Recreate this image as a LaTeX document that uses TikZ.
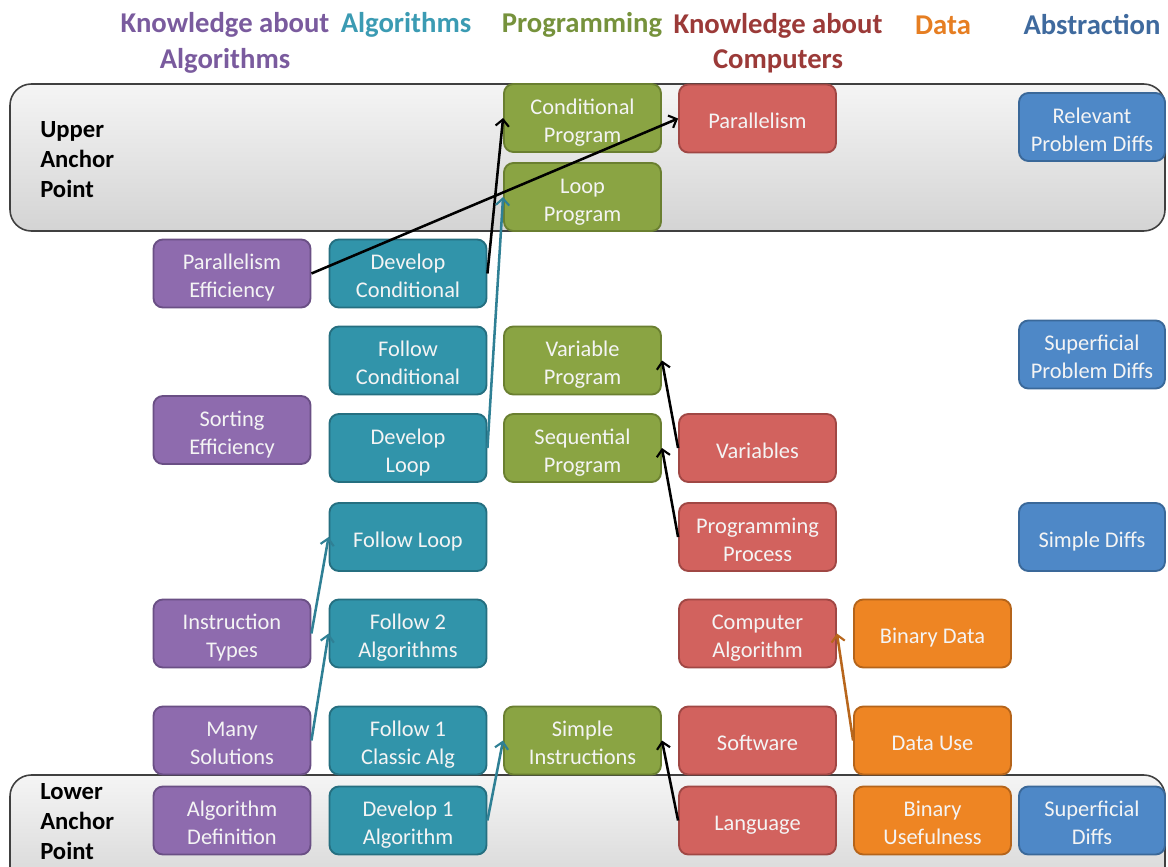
\documentclass[tikz,border=0pt]{standalone}
\usepackage{fontspec}
\setmainfont{Carlito}
\usetikzlibrary{arrows.meta}
\definecolor{pF}{HTML}{8E6BAE}\definecolor{pD}{HTML}{6A4F85}
\definecolor{tF}{HTML}{3194AA}\definecolor{tD}{HTML}{256F80}
\definecolor{gF}{HTML}{8AA443}\definecolor{gD}{HTML}{6A7F30}
\definecolor{rF}{HTML}{D2625E}\definecolor{rD}{HTML}{A04744}
\definecolor{oF}{HTML}{EE8523}\definecolor{oD}{HTML}{B5641A}
\definecolor{bF}{HTML}{4E88C7}\definecolor{bD}{HTML}{3A6899}
\definecolor{hP}{HTML}{7A5B9E}\definecolor{hT}{HTML}{3B9BB3}
\definecolor{hG}{HTML}{76923C}\definecolor{hR}{HTML}{9B3A38}
\definecolor{hO}{HTML}{E67E22}\definecolor{hB}{HTML}{3F6A9E}
\definecolor{arT}{HTML}{2F8095}\definecolor{arO}{HTML}{B8661C}
\definecolor{txt}{HTML}{F4F4F4}
\newcommand\bxt[1]{\begin{tabular}{@{}c@{}}\rule{0pt}{21.5pt}#1\end{tabular}}
\tikzset{
  box/.style={rectangle, rounded corners=7pt, minimum width=117.75pt, minimum height=51pt,
    inner sep=0pt, line width=1.4pt, text=txt,
    font=\fontsize{16.8}{21}\selectfont},
  pbox/.style={box, fill=pF, draw=pD},
  tbox/.style={box, fill=tF, draw=tD},
  gbox/.style={box, fill=gF, draw=gD},
  rbox/.style={box, fill=rF, draw=rD},
  obox/.style={box, fill=oF, draw=oD},
  bbox/.style={box, fill=bF, draw=bD, minimum width=109.5pt},
  head/.style={font=\bfseries\fontsize{21.5}{26.5}\selectfont, align=center, inner sep=0pt},
  side/.style={font=\bfseries\fontsize{18.5}{22.5}\selectfont, align=left, inner sep=0pt, anchor=west},
  band/.style={rounded corners=16pt, draw=black!75, line width=1.2pt, top color=white!96!black, bottom color=black!17},
  arr/.style={line width=1.9pt, -{Straight Barb[length=5pt,width=10pt,line width=1.6pt]}},
}
\begin{document}
\begin{tikzpicture}[x=0.75pt,y=-0.75pt]
\clip (0,0) rectangle (1168,867);
\fill[white] (0,0) rectangle (1168,867);
% bands
\path[band] (10,84) rectangle (1165,231);
\path[band] (10,775) rectangle (1165,900);
% headers
\node[head, text=hP] (hka) at (225,43) {Knowledge about\\Algorithms};
\node[head, text=hT] (hal) at (406,25) {Algorithms};
\node[head, text=hG] (hpr) at (582,25) {Programming};
\node[head, text=hR] (hkc) at (778,43) {Knowledge about\\Computers};
\node[head, text=hO] (hda) at (943,25) {Data};
\node[head, text=hB] (hab) at (1092,25) {Abstraction};
% side labels
\node[side] (upper) at (40,160) {Upper\\Anchor\\Point};
\node[side] (lower) at (40,822) {Lower\\Anchor\\Point};
% boxes
\node[gbox] (condprog) at (582.5,118) {\bxt{Conditional\\Program}};
\node[gbox] (loopprog) at (582.5,197) {\bxt{Loop\\Program}};
\node[rbox] (parallel) at (757.5,118.5) {\bxt{Parallelism}};
\node[bbox] (relevant) at (1092,127) {\bxt{Relevant\\Problem Diffs}};
\node[pbox] (pareff) at (232,273.5) {\bxt{Parallelism\\Efficiency}};
\node[tbox] (devcond) at (408,273.5) {\bxt{Develop\\Conditional}};
\node[tbox] (folcond) at (408,360.5) {\bxt{Follow\\Conditional}};
\node[gbox] (varprog) at (582.5,360.5) {\bxt{Variable\\Program}};
\node[bbox] (superprob) at (1092,354.5) {\bxt{Superficial\\Problem Diffs}};
\node[pbox] (sorteff) at (232,430) {\bxt{Sorting\\Efficiency}};
\node[tbox] (devloop) at (408,448) {\bxt{Develop\\Loop}};
\node[gbox] (seqprog) at (582.5,448) {\bxt{Sequential\\Program}};
\node[rbox] (variables) at (757.5,448) {\bxt{Variables}};
\node[tbox] (folloop) at (408,537) {\bxt{Follow Loop}};
\node[rbox] (progproc) at (757.5,537) {\bxt{Programming\\Process}};
\node[bbox] (simpdiff) at (1092,537) {\bxt{Simple Diffs}};
\node[pbox] (insttype) at (232,633.5) {\bxt{Instruction\\Types}};
\node[tbox] (fol2) at (408,633.5) {\bxt{Follow 2\\Algorithms}};
\node[rbox] (compalg) at (757.5,633.5) {\bxt{Computer\\Algorithm}};
\node[obox] (bindata) at (932.5,633.5) {\bxt{Binary Data}};
\node[pbox] (manysol) at (232,740.5) {\bxt{Many\\Solutions}};
\node[tbox] (fol1) at (408,740.5) {\bxt{Follow 1\\Classic Alg}};
\node[gbox] (simpinst) at (582.5,740.5) {\bxt{Simple\\Instructions}};
\node[rbox] (software) at (757.5,740.5) {\bxt{Software}};
\node[obox] (datause) at (932.5,740.5) {\bxt{Data Use}};
\node[pbox] (algdef) at (232,820.5) {\bxt{Algorithm\\Definition}};
\node[tbox] (dev1) at (408,820.5) {\bxt{Develop 1\\Algorithm}};
\node[rbox] (language) at (757.5,820.5) {\bxt{Language}};
\node[obox] (binuse) at (932.5,820.5) {\bxt{Binary\\Usefulness}};
\node[bbox] (superdiff) at (1092,820.5) {\bxt{Superficial\\Diffs}};
% arrows
\draw[arr, black] (pareff.east) -- (parallel.west);
\draw[arr, black] (devcond.east) -- (condprog.west);
\draw[arr, arT] (devloop.east) -- (loopprog.west);
\draw[arr, black] (variables.west) -- (varprog.east);
\draw[arr, black] (progproc.west) -- (seqprog.east);
\draw[arr, arT] (insttype.east) -- (folloop.west);
\draw[arr, arT] (manysol.east) -- (fol2.west);
\draw[arr, arT] (dev1.east) -- (simpinst.west);
\draw[arr, black] (language.west) -- (simpinst.east);
\draw[arr, arO] (datause.west) -- (compalg.east);
\end{tikzpicture}
\end{document}
